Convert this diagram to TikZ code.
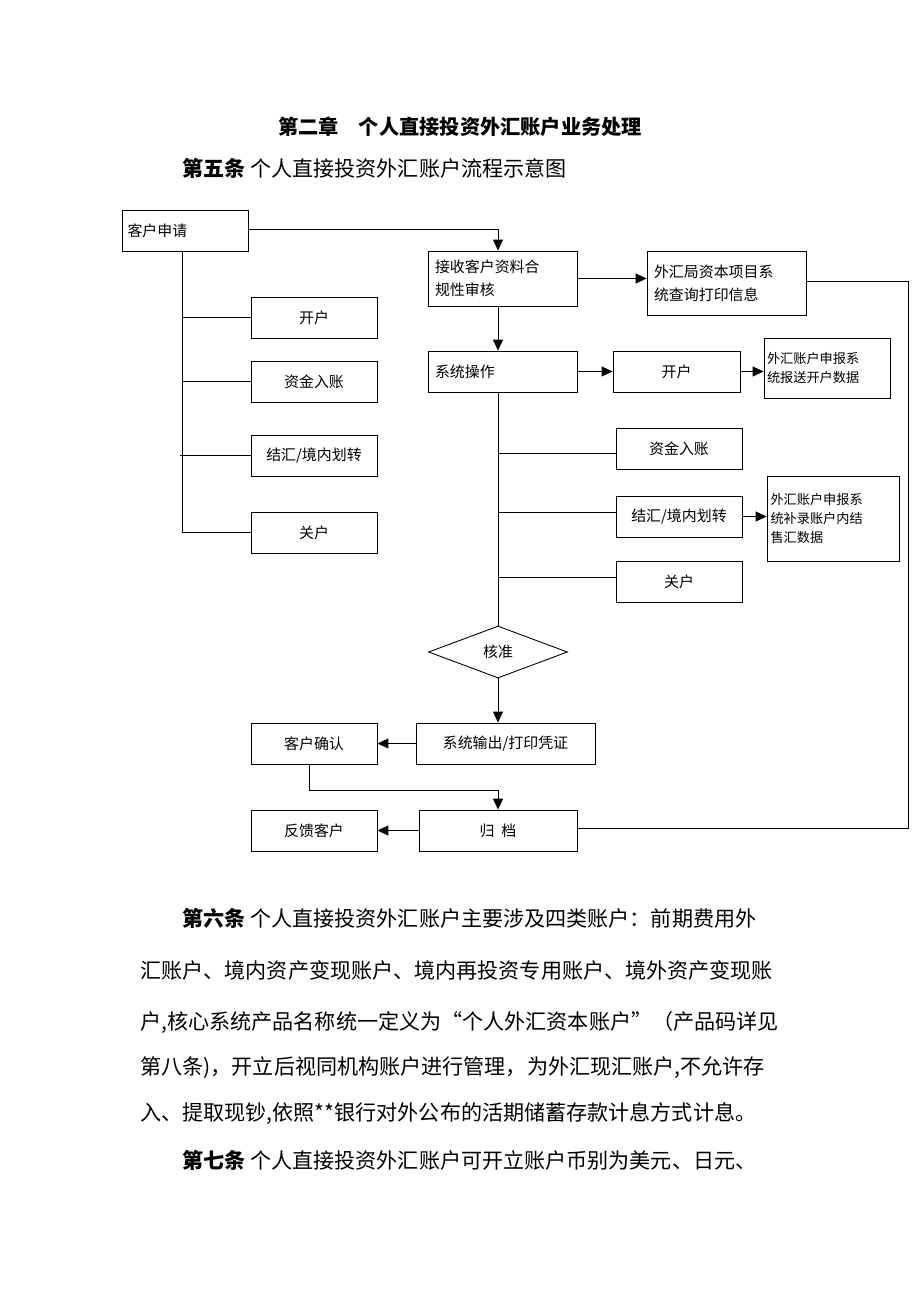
\documentclass[tikz,border=0pt]{standalone}
\usepackage{fontspec}
\setmainfont{Noto Sans CJK SC}
\usetikzlibrary{arrows.meta,positioning,shapes.geometric}
\tikzset{>={Triangle[length=2.2mm,width=2mm]}}
\tikzset{box/.style={draw,minimum height=0.82cm,inner sep=1pt,font=\fontsize{8.5pt}{11pt}\selectfont},
  txt/.style={anchor=west,inner sep=0pt,font=\fontsize{12pt}{14pt}\selectfont}}

\begin{document}
\begin{tikzpicture}[x=0.02cm,y=-0.02cm,line width=0.5pt]
		\useasboundingbox (0,0) rectangle (920,1302);
		\node[font=\bfseries\fontsize{11.5pt}{14pt}\selectfont] (chap) at (460,127) {第二章\quad 个人直接投资外汇账户业务处理};
		\node[txt] (art5) at (182,168) {\textbf{第五条} 个人直接投资外汇账户流程示意图};

		% left column
		\node[box,minimum width=2.52cm,text width=2.3cm,align=left] (apply) at (185,230.5) {客户申请};
		\node[box,minimum width=2.52cm] (openL) at (314,317.5) {开户};
		\node[box,minimum width=2.52cm] (fundL) at (314,381.5) {资金入账};
		\node[box,minimum width=2.52cm] (settleL) at (314,455.5) {结汇/境内划转};
		\node[box,minimum width=2.52cm] (closeL) at (314,532.5) {关户};
		\coordinate (trunkL) at (182,251);
		\draw (trunkL) -- (182,532.5) -- (closeL.west);
		\draw (182,317.5) -- (openL.west);
		\draw (182,381.5) -- (fundL.west);
		\draw (180,455.5) -- (settleL.west);

		% middle column
		\node[box,minimum width=2.98cm,minimum height=1.1cm,text width=2.7cm,align=left] (check) at (502.5,278.5) {接收客户资料合\\[2pt]规性审核};
		\node[box,minimum width=3.18cm,minimum height=1.28cm,text width=2.9cm,align=left] (query) at (726.5,283) {外汇局资本项目系\\[2pt]统查询打印信息};
		\node[box,minimum width=2.98cm,text width=2.7cm,align=left] (sysop) at (502.5,371.5) {系统操作};
		\node[box,minimum width=2.54cm] (openR) at (676.5,371.5) {开户};
		\node[box,minimum width=2.52cm,minimum height=1.2cm,text width=2.4cm,align=left,font=\fontsize{7.5pt}{10pt}\selectfont] (reportA) at (827,368) {外汇账户申报系\\[1pt]统报送开户数据};
		\node[box,minimum width=2.52cm] (fundR) at (679,448.5) {资金入账};
		\node[box,minimum width=2.52cm] (settleR) at (679,516.5) {结汇/境内划转};
		\node[box,minimum width=2.64cm,minimum height=1.7cm,text width=2.5cm,align=left,font=\fontsize{7.5pt}{10pt}\selectfont] (reportB) at (833,518.5) {外汇账户申报系\\[1pt]统补录账户内结\\[1pt]售汇数据};
		\node[box,minimum width=2.52cm] (closeR) at (679,581.5) {关户};
		\node[draw,diamond,aspect=2.7,minimum width=2.78cm,minimum height=1.04cm,inner sep=0pt,font=\fontsize{8.5pt}{11pt}\selectfont] (approve) at (498,652) {核准};
		\node[box,minimum width=3.58cm] (output) at (505.5,743.5) {系统输出/打印凭证};
		\node[box,minimum width=2.52cm] (confirm) at (314,743.5) {客户确认};
		\node[box,minimum width=3.16cm] (archive) at (498,830.5) {归\ \ 档};
		\node[box,minimum width=2.52cm] (feedback) at (314,830.5) {反馈客户};

		\draw[->] (apply.east |- 0,229) -- (498,229) -- (check.north -| 498,0);
		\draw[->] (check.east) -- (query.west |- check.east);
		\draw[->] (check.south -| 498,0) -- (sysop.north -| 498,0);
		\draw[->] (sysop.east) -- (openR.west);
		\draw[->] (openR.east) -- (reportA.west |- openR.east);
		\draw[->] (settleR.east) -- (reportB.west |- settleR.east);
		\draw (sysop.south -| 498,0) -- (approve.north);
		\draw (498,453) -- (fundR.west |- 0,453);
		\draw (498,512) -- (settleR.west |- 0,512);
		\draw (498,577) -- (closeR.west |- 0,577);
		\draw[->] (approve.south) -- (output.north -| 498,0);
		\draw[->] (output.west) -- (confirm.east);
		\draw[->] (confirm.south -| 309,0) -- (309,790) -- (498,790) -- (archive.north);
		\draw[->] (archive.west) -- (feedback.east);
		\draw (query.east |- 0,281) -- (908,281) -- (908,828) -- (archive.east |- 0,828);

		% articles
		\node[txt] (p1) at (182,918) {\textbf{第六条} 个人直接投资外汇账户主要涉及四类账户：前期费用外};
		\node[txt] (p2) at (140,970) {汇账户、境内资产变现账户、境内再投资专用账户、境外资产变现账};
		\node[txt] (p3) at (140,1022) {户,核心系统产品名称统一定义为“个人外汇资本账户”（产品码详见};
		\node[txt] (p4) at (140,1068) {第八条)，开立后视同机构账户进行管理，为外汇现汇账户,不允许存};
		\node[txt] (p5) at (140,1114) {入、提取现钞,依照**银行对外公布的活期储蓄存款计息方式计息。};
		\node[txt] (art7) at (182,1160) {\textbf{第七条} 个人直接投资外汇账户可开立账户币别为美元、日元、};
	\end{tikzpicture}
\end{document}
